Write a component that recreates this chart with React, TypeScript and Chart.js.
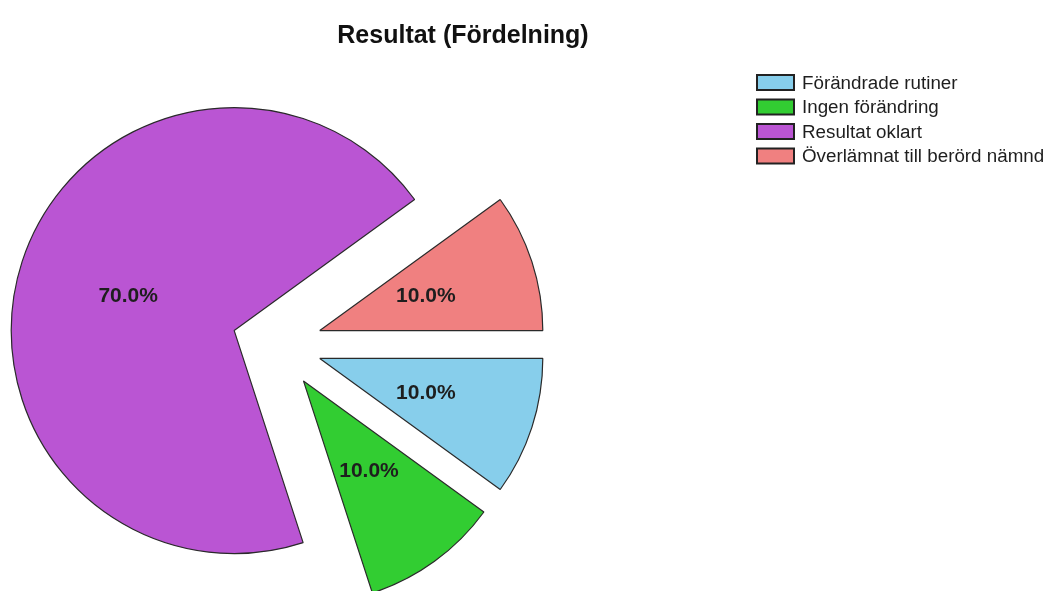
import React, { useEffect, useRef } from "react";
import { Chart, registerables } from "chart.js";

Chart.register(...registerables);

const TITLE = "Resultat (Fördelning)";
const categories = [
  "Förändrade rutiner",
  "Ingen förändring",
  "Resultat oklart",
  "Överlämnat till berörd nämnd",
];
const counts = [1, 1, 7, 1];
const colors = ["#87CEEB", "#32CD32", "#BA55D3", "#F08080"];

const EXPLODE = 45;
const FONT = "'Liberation Sans', Arial, sans-serif";

const explodePlugin = {
  id: "explode",
  beforeDatasetDraw(chart: any, args: any) {
    const ctx = chart.ctx;
    args.meta.data.forEach((arc: any) => {
      const mid = (arc.startAngle + arc.endAngle) / 2;
      ctx.save();
      ctx.translate(Math.cos(mid) * EXPLODE, Math.sin(mid) * EXPLODE);
      arc.draw(ctx);
      ctx.restore();
    });
    return false;
  },
  afterDatasetsDraw(chart: any) {
    const ctx = chart.ctx;
    const meta = chart.getDatasetMeta(0);
    const data = chart.data.datasets[0].data as number[];
    const total = data.reduce((a, b) => a + b, 0);
    ctx.save();
    ctx.font = `bold 21px ${FONT}`;
    ctx.fillStyle = "#1e1e1e";
    ctx.textAlign = "center";
    ctx.textBaseline = "middle";
    meta.data.forEach((arc: any, i: number) => {
      const mid = (arc.startAngle + arc.endAngle) / 2;
      const r = EXPLODE + arc.outerRadius / 2;
      const x = arc.x + Math.cos(mid) * r;
      const y = arc.y + Math.sin(mid) * r;
      ctx.fillText(((data[i] / total) * 100).toFixed(1) + "%", x, y);
    });
    ctx.restore();
  },
  afterDraw(chart: any) {
    const ctx = chart.ctx;
    ctx.save();
    // title
    ctx.font = `bold 25px ${FONT}`;
    ctx.fillStyle = "#111";
    ctx.textAlign = "center";
    ctx.textBaseline = "alphabetic";
    ctx.fillText(TITLE, 463, 43);
    // legend
    ctx.font = `18.8px ${FONT}`;
    ctx.textAlign = "left";
    ctx.textBaseline = "middle";
    chart.data.labels.forEach((label: string, i: number) => {
      const cy = 82.5 + i * 24.5;
      ctx.fillStyle = colors[i];
      ctx.fillRect(757, cy - 7.5, 37, 15);
      ctx.lineWidth = 2;
      ctx.strokeStyle = "#222";
      ctx.strokeRect(757, cy - 7.5, 37, 15);
      ctx.fillStyle = "#1e1e1e";
      ctx.fillText(label, 802, cy + 1);
    });
    ctx.restore();
  },
};

export default function App() {
  const ref = useRef<HTMLCanvasElement>(null);
  useEffect(() => {
    if (!ref.current) return;
    const chart = new Chart(ref.current, {
      type: "pie",
      data: {
        labels: categories,
        datasets: [
          {
            data: counts,
            backgroundColor: colors,
            borderColor: "#2a2a2a",
            borderWidth: 1.2,
          },
        ],
      },
      options: {
        responsive: false,
        animation: false,
        rotation: 90,
        radius: 223,
        layout: { padding: { left: 54, right: 553, top: 121, bottom: 23 } },
        plugins: {
          legend: { display: false },
          title: { display: false },
          tooltip: { enabled: false },
        },
      },
      plugins: [explodePlugin],
    });
    return () => chart.destroy();
  }, []);
  return (
    <div style={{ position: "absolute", left: 0, top: 0, width: 1053, height: 591, background: "#fff" }}>
      <canvas ref={ref} width={1053} height={591} />
    </div>
  );
}
